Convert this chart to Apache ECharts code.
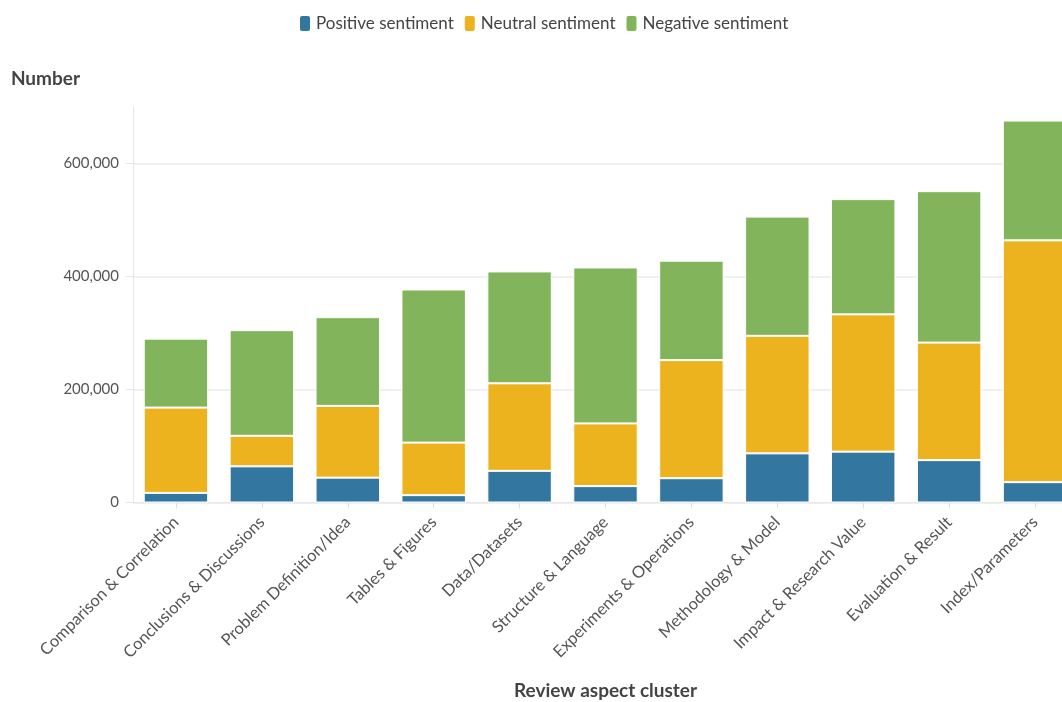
<!DOCTYPE html>
<html>
<head>
<meta charset="utf-8">
<script src="https://cdn.jsdelivr.net/npm/echarts@6/dist/echarts.min.js"></script>
<style>
html,body{margin:0;padding:0;background:#fff;overflow:hidden;}
#chart{width:1062px;height:702px;}
</style>
</head>
<body>
<div id="chart"></div>
<script>
const categories = ["Comparison & Correlation","Conclusions & Discussions","Problem Definition/Idea","Tables & Figures","Data/Datasets","Structure & Language","Experiments & Operations","Methodology & Model","Impact & Research Value","Evaluation & Result","Index/Parameters"];
const positive = [17000, 64000, 44000, 13000, 56000, 29000, 43000, 87000, 90000, 75000, 36000];
const neutral  = [151000, 54000, 127000, 93000, 155000, 111000, 209000, 208000, 243000, 208000, 428000];
const negative = [122000, 187000, 157000, 271000, 198000, 276000, 176000, 211000, 204000, 268000, 212000];
const seriesNames = ["Positive sentiment","Neutral sentiment","Negative sentiment"];
const colors = ["#33769f","#edb31f","#82b55b"];
const yTicks = [0, 200000, 400000, 600000];

const FONT = "Lato";
const chart = echarts.init(document.getElementById('chart'), null, {renderer:'canvas'});
function mk(name, data, color){
  return {
    name, type:'bar', stack:'total', data, barCategoryGap:'25%',
    itemStyle:{color, borderColor:'#ffffff', borderWidth:1},
    emphasis:{disabled:true}
  };
}
chart.setOption({
  animation:false,
  textStyle:{fontFamily:FONT},
  color:colors,
  legend:{
    top:9, left:293,
    icon:'roundRect', itemWidth:12, itemHeight:17, itemGap:9,
    textStyle:{fontSize:17, color:'#444', fontFamily:FONT},
    data:seriesNames
  },
  grid:{left:133, right:-16, top:107, bottom:199.5, containLabel:false, outerBoundsMode:'none'},
  xAxis:{
    type:'category', data:categories,
    name:'Review aspect cluster', nameLocation:'middle', nameGap:179,
    nameTextStyle:{fontSize:19, fontWeight:'bold', color:'#444', fontFamily:FONT},
    axisLine:{show:true, lineStyle:{color:'#e6e6e6', width:1}},
    axisTick:{show:true, alignWithLabel:true, length:6, lineStyle:{color:'#e0e0e0'}},
    axisLabel:{rotate:45, fontSize:16.5, color:'#555', margin:17, interval:0, fontFamily:FONT},
    splitLine:{show:false}
  },
  yAxis:{
    type:'value', min:0, max:700000, interval:200000,
    name:'Number', nameLocation:'end', nameGap:28,
    nameTextStyle:{fontSize:19, fontWeight:'bold', color:'#444', align:'right', verticalAlign:'middle', padding:[0,53,0,0], fontFamily:FONT},
    axisLine:{show:true, lineStyle:{color:'#e6e6e6', width:1}},
    axisTick:{show:true, length:7, lineStyle:{color:'#e6e6e6'}},
    axisLabel:{fontSize:15, color:'#555', margin:14, showMaxLabel:false, fontFamily:FONT,
      formatter:v=> yTicks.indexOf(v)>=0 ? v.toLocaleString('en-US') : ''},
    splitLine:{show:true, showMaxLine:false, lineStyle:{color:'#ebebeb', width:1.5}}
  },
  series:[mk(seriesNames[0],positive,colors[0]), mk(seriesNames[1],neutral,colors[1]), mk(seriesNames[2],negative,colors[2])]
});
</script>
</body>
</html>
